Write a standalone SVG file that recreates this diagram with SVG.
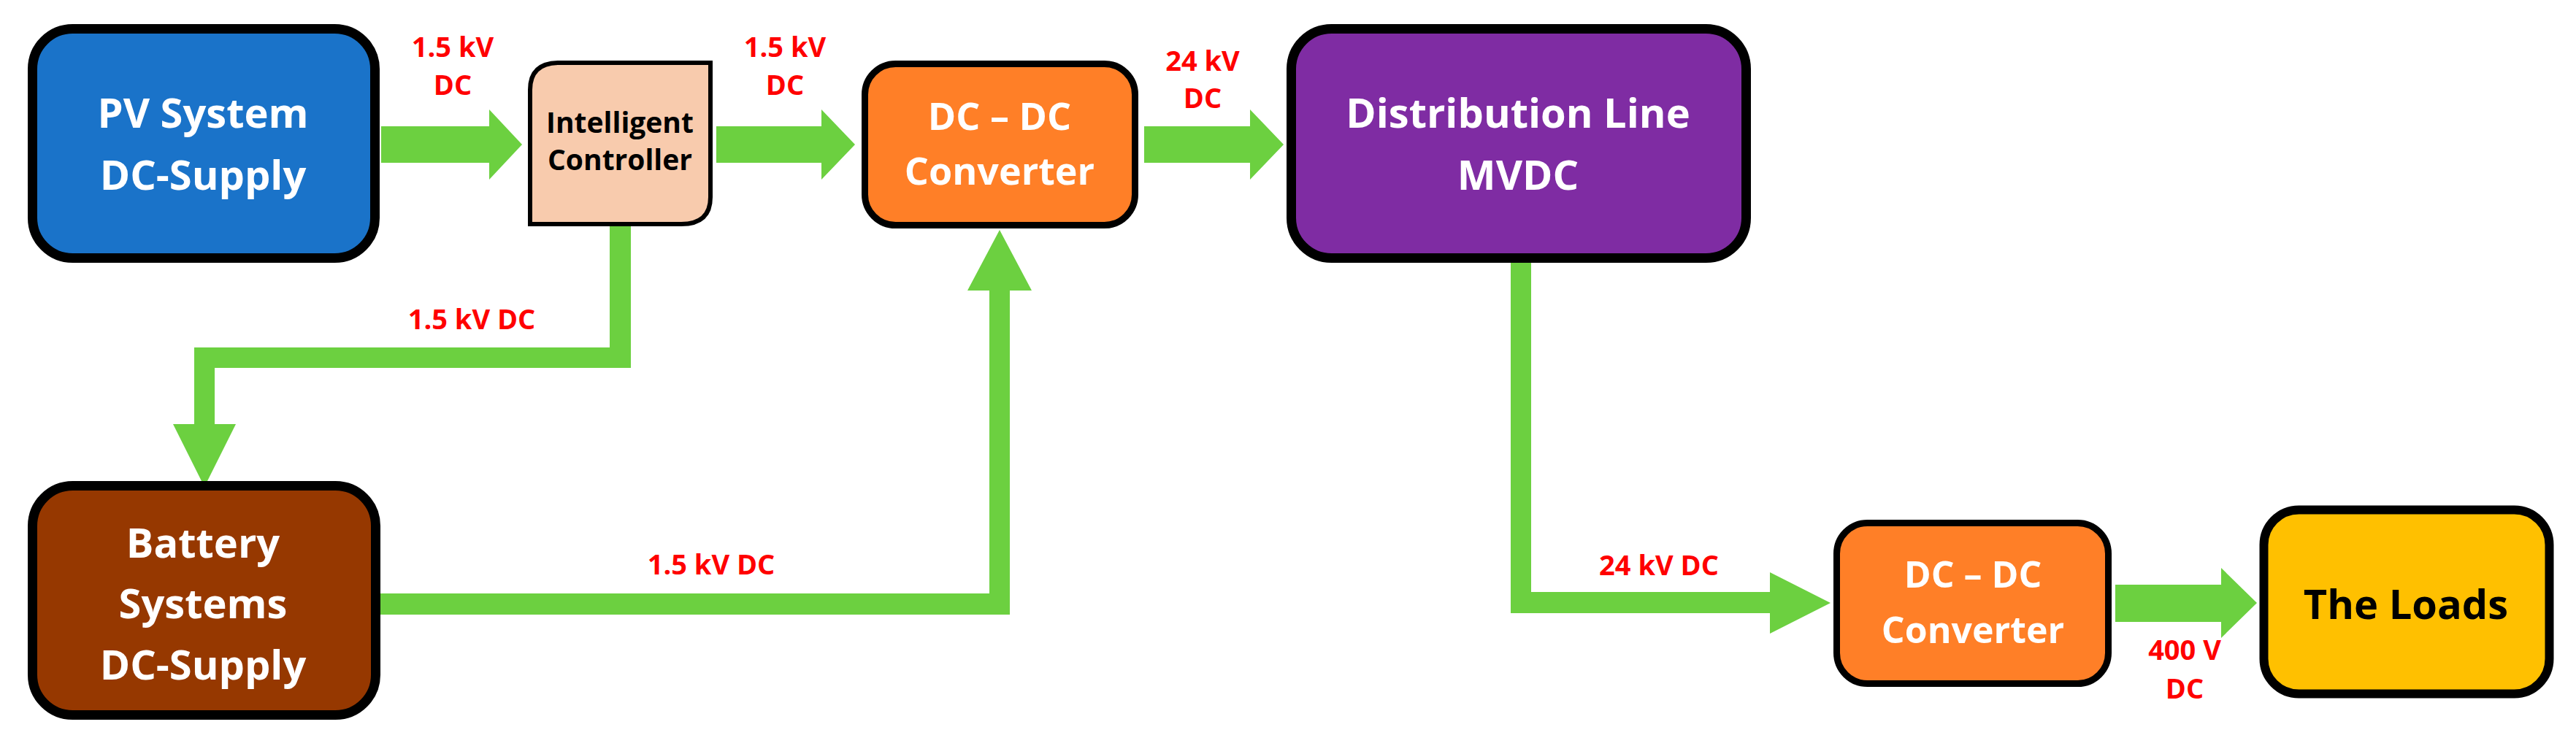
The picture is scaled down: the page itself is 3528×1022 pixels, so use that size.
<svg xmlns="http://www.w3.org/2000/svg" width="3528" height="1022" viewBox="0 0 3528 1022">
<style>
.node{stroke:#000;}
.nt{font-family:"Open Sans","Liberation Sans",sans-serif;font-weight:bold;fill:#fff;text-anchor:middle;}
.lbl{font-family:"Open Sans","Liberation Sans",sans-serif;font-weight:bold;fill:#ff0000;text-anchor:middle;font-size:38px;}
.conn{fill:#6cd040;stroke:none;}
</style>
<rect width="3528" height="1022" fill="#fff"/>
<g id="connectors">
<polygon class="conn" points="522,173 670,173 670,150 715,198 670,246 670,223 522,223"/>
<polygon class="conn" points="981,173 1125,173 1125,150 1171,198 1125,246 1125,223 981,223"/>
<polygon class="conn" points="1567,173 1712,173 1712,150 1758,198 1712,246 1712,223 1567,223"/>
<polygon class="conn" points="835,310 864,310 864,504 294,504 294,581 323,581 280,667 237,581 266,581 266,476 835,476"/>
<polygon class="conn" points="517,813 1355,813 1355,398 1325,398 1369,315 1413,398 1383,398 1383,842 517,842"/>
<polygon class="conn" points="2069,360 2097,360 2097,811 2424,811 2424,784 2507,826 2424,868 2424,840 2069,840"/>
<polygon class="conn" points="2897,801 3042,801 3042,778 3091,826 3042,874 3042,852 2897,852"/>
<text class="lbl" x="620" y="78">1.5 kV</text>
<text class="lbl" x="620" y="130">DC</text>
<text class="lbl" x="1075" y="78">1.5 kV</text>
<text class="lbl" x="1075" y="130">DC</text>
<text class="lbl" x="1647" y="97">24 kV</text>
<text class="lbl" x="1647" y="148">DC</text>
<text class="lbl" x="646" y="451">1.5 kV DC</text>
<text class="lbl" x="974" y="787">1.5 kV DC</text>
<text class="lbl" x="2272" y="788">24 kV DC</text>
<text class="lbl" x="2992" y="904">400 V</text>
<text class="lbl" x="2992" y="957">DC</text>
</g>
<g id="pv">
<rect class="node" x="44.5" y="39.5" width="469" height="314" rx="55" fill="#1a73c9" stroke-width="13"/>
<text class="nt" x="278" y="175" font-size="56">PV System</text>
<text class="nt" x="278" y="260" font-size="56">DC-Supply</text>
</g>
<g id="controller">
<path class="node" d="M726,123 Q726,86 766,86 L973,86 L973,270 Q973,307 933,307 L726,307 Z" fill="#f8cbad" stroke-width="6"/>
<text class="nt" x="849" y="182" font-size="39" fill="#000" style="fill:#000">Intelligent</text>
<text class="nt" x="849" y="233" font-size="39" style="fill:#000">Controller</text>
</g>
<g id="dcdc1">
<rect class="node" x="1184.5" y="87.5" width="370" height="221" rx="42" fill="#ff7f27" stroke-width="9"/>
<text class="nt" x="1369" y="178" font-size="52">DC – DC</text>
<text class="nt" x="1369" y="253" font-size="52">Converter</text>
</g>
<g id="distribution">
<rect class="node" x="1768.5" y="39.5" width="623" height="314" rx="55" fill="#7f2ca3" stroke-width="13"/>
<text class="nt" x="2079" y="175" font-size="56">Distribution Line</text>
<text class="nt" x="2079" y="260" font-size="56">MVDC</text>
</g>
<g id="battery">
<rect class="node" x="44.5" y="665.5" width="470" height="314" rx="55" fill="#963800" stroke-width="13"/>
<text class="nt" x="278" y="764" font-size="56">Battery</text>
<text class="nt" x="278" y="847" font-size="56">Systems</text>
<text class="nt" x="278" y="931" font-size="56">DC-Supply</text>
</g>
<g id="dcdc2">
<rect class="node" x="2515.5" y="716.5" width="372" height="220" rx="42" fill="#ff7f27" stroke-width="9"/>
<text class="nt" x="2702" y="805" font-size="50">DC – DC</text>
<text class="nt" x="2702" y="881" font-size="50">Converter</text>
</g>
<g id="loads">
<rect class="node" x="3100.5" y="698.5" width="391" height="252" rx="48" fill="#ffc000" stroke-width="12"/>
<text class="nt" x="3295" y="848" font-size="56" style="fill:#000">The Loads</text>
</g>
</svg>
